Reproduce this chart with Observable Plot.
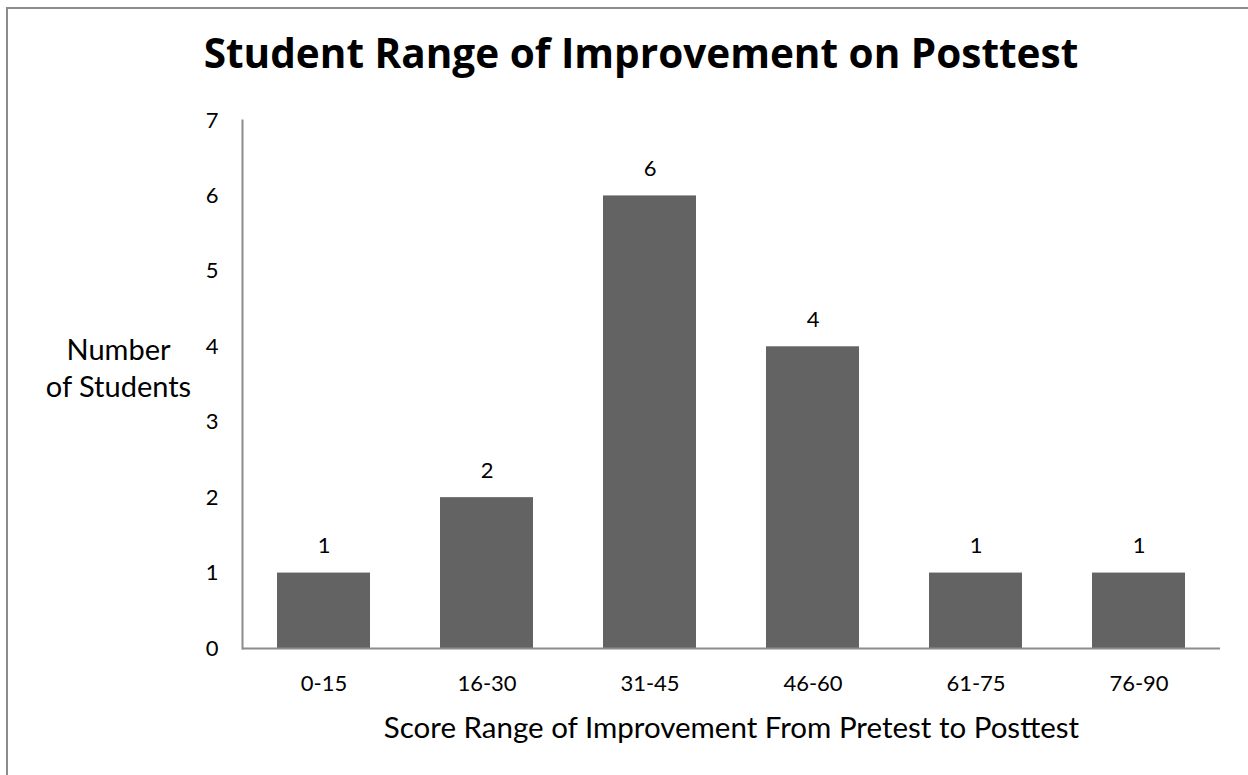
<!DOCTYPE html>
<html><head><meta charset="utf-8">
<script src="https://cdn.jsdelivr.net/npm/d3@7"></script>
<script src="https://cdn.jsdelivr.net/npm/@observablehq/plot@0.6"></script>
<style>
body{margin:0;background:#fff;}
#wrap{position:relative;width:1248px;height:775px;overflow:hidden;font-family:Lato,sans-serif;background:#fff;}
#border{position:absolute;left:6px;top:7px;width:1300px;height:900px;border-left:2px solid #8c8c8c;border-top:2px solid #8c8c8c;}
#title{position:absolute;left:0;top:33px;width:1282px;text-align:center;font-family:"Open Sans",sans-serif;font-size:40.5px;font-weight:bold;line-height:40px;color:#000;white-space:nowrap;}
#chart{position:absolute;left:0;top:90px;}
</style></head>
<body><div id="wrap"><div id="border"></div><div id="title"></div><div id="chart"></div></div>
<script>
const titleText = "Student Range of Improvement on Posttest";
const categories = ["0-15", "16-30", "31-45", "46-60", "61-75", "76-90"];
const counts = [1, 2, 6, 4, 1, 1];
const yTicks = [0, 1, 2, 3, 4, 5, 6, 7];
const yLabel = "Number\nof Students";
const xLabel = "Score Range of Improvement From Pretest to Posttest";

document.getElementById("title").textContent = titleText;
const data = categories.map((c, i) => ({range: c, count: counts[i]}));

const plot = Plot.plot({
  width: 1248, height: 685,
  marginLeft: 242, marginRight: 28, marginTop: 30, marginBottom: 127,
  style: {fontFamily: "Lato, sans-serif", fontSize: "22px", color: "#000", background: "transparent"},
  x: {domain: categories, paddingInner: 0.43, paddingOuter: 0.215, label: null},
  y: {domain: [0, 7], ticks: yTicks, label: null},
  marks: [
    Plot.barY(data, {x: "range", y: "count", fill: "#636363"}),
    Plot.ruleY([0], {stroke: "#8c8c8c", strokeWidth: 2}),
    Plot.frame({anchor: "left", stroke: "#8c8c8c", strokeWidth: 2}),
    Plot.axisY({ticks: yTicks, tickFormat: "d", tickSize: 0, tickPadding: 24, fontSize: 22, label: null}),
    Plot.axisX({tickSize: 0, tickPadding: 27, fontSize: 22, label: null}),
    Plot.text(data, {x: "range", y: "count", text: d => String(d.count), dy: -27, fontSize: 22, fill: "#000"}),
    Plot.text([yLabel], {frameAnchor: "left", dx: -124, dy: -18, fontSize: 29, lineHeight: 1.28, text: d => d, textAnchor: "middle", fill: "#000"}),
    Plot.text([xLabel], {frameAnchor: "bottom", dy: 69, lineAnchor: "top", fontSize: 29.5, text: d => d, fill: "#000"})
  ]
});
document.getElementById("chart").appendChild(plot);
</script>
</body></html>
